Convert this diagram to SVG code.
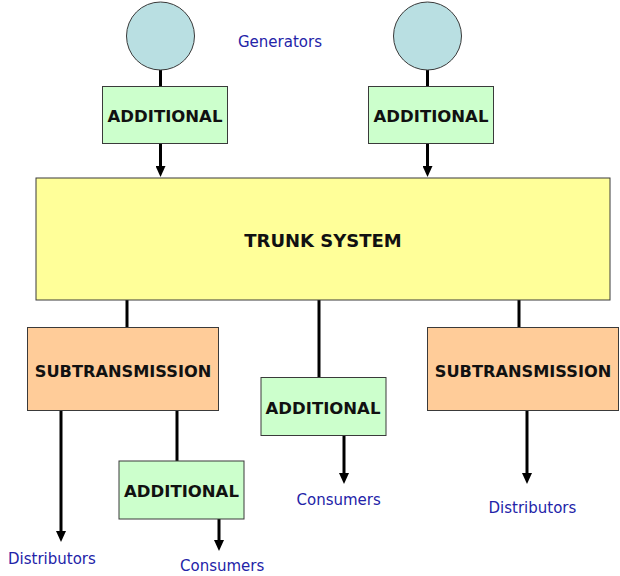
<svg xmlns="http://www.w3.org/2000/svg" width="620" height="576" viewBox="0 0 620 576">
<style>
.box{stroke:#3a3a3a;stroke-width:1}
.gen{fill:#b9dfe2}
.add{fill:#ccffcc}
.sub{fill:#ffcc99}
.trunk{fill:#ffff99}
.lbl{font-family:"DejaVu Sans",Verdana,sans-serif;font-weight:bold;fill:#111;text-anchor:middle}
.note{font-family:"DejaVu Sans",Verdana,sans-serif;font-size:15px;fill:#2323a8}
.con{stroke:#000;stroke-width:3;fill:none}
</style>
<defs>
<marker id="ah" markerUnits="userSpaceOnUse" markerWidth="11" markerHeight="10" refX="0" refY="5" orient="auto">
<path d="M0,0 L11,5 L0,10 z" fill="#000"/>
</marker>
</defs>
<rect width="620" height="576" fill="#fff"/>
<g id="connectors">
<line class="con" x1="160.5" y1="70" x2="160.5" y2="86"/>
<line class="con" x1="160.5" y1="144" x2="160.5" y2="166" marker-end="url(#ah)"/>
<line class="con" x1="427.5" y1="70" x2="427.5" y2="86"/>
<line class="con" x1="427.5" y1="144" x2="427.5" y2="166" marker-end="url(#ah)"/>
<line class="con" x1="127" y1="300" x2="127" y2="327"/>
<line class="con" x1="319" y1="300" x2="319" y2="377"/>
<line class="con" x1="519" y1="300" x2="519" y2="327"/>
<line class="con" x1="61" y1="410" x2="61" y2="531" marker-end="url(#ah)"/>
<line class="con" x1="177" y1="410" x2="177" y2="461"/>
<line class="con" x1="219" y1="519" x2="219" y2="540" marker-end="url(#ah)"/>
<line class="con" x1="344" y1="436" x2="344" y2="473" marker-end="url(#ah)"/>
<line class="con" x1="527" y1="410" x2="527" y2="473" marker-end="url(#ah)"/>
</g>
<g id="gen1"><circle class="box gen" cx="160.5" cy="36" r="34"/></g>
<g id="gen2"><circle class="box gen" cx="427.5" cy="36" r="34"/></g>
<g id="generators-label"><text class="note" x="238" y="46.5">Generators</text></g>
<g id="add1"><rect class="box add" x="102.5" y="86.5" width="125" height="57"/><text class="lbl" x="165" y="121.5" font-size="16.5">ADDITIONAL</text></g>
<g id="add2"><rect class="box add" x="368.5" y="86.5" width="125" height="57"/><text class="lbl" x="431" y="121.5" font-size="16.5">ADDITIONAL</text></g>
<g id="trunk"><rect class="box trunk" x="36" y="178" width="574" height="122"/><text class="lbl" x="323" y="246.5" font-size="18">TRUNK SYSTEM</text></g>
<g id="sub1"><rect class="box sub" x="27.5" y="327.5" width="191" height="83"/><text class="lbl" x="123" y="377" font-size="16.2">SUBTRANSMISSION</text></g>
<g id="sub2"><rect class="box sub" x="427.5" y="327.5" width="191" height="83"/><text class="lbl" x="523" y="377" font-size="16.2">SUBTRANSMISSION</text></g>
<g id="add3"><rect class="box add" x="261" y="377.5" width="125" height="58"/><text class="lbl" x="323" y="414" font-size="16.5">ADDITIONAL</text></g>
<g id="add4"><rect class="box add" x="119" y="461" width="125" height="58"/><text class="lbl" x="181.5" y="497" font-size="16.5">ADDITIONAL</text></g>
<g id="dist1"><text class="note" x="8" y="564">Distributors</text></g>
<g id="cons1"><text class="note" x="180" y="571">Consumers</text></g>
<g id="cons2"><text class="note" x="296.5" y="505">Consumers</text></g>
<g id="dist2"><text class="note" x="488.5" y="513">Distributors</text></g>
</svg>
